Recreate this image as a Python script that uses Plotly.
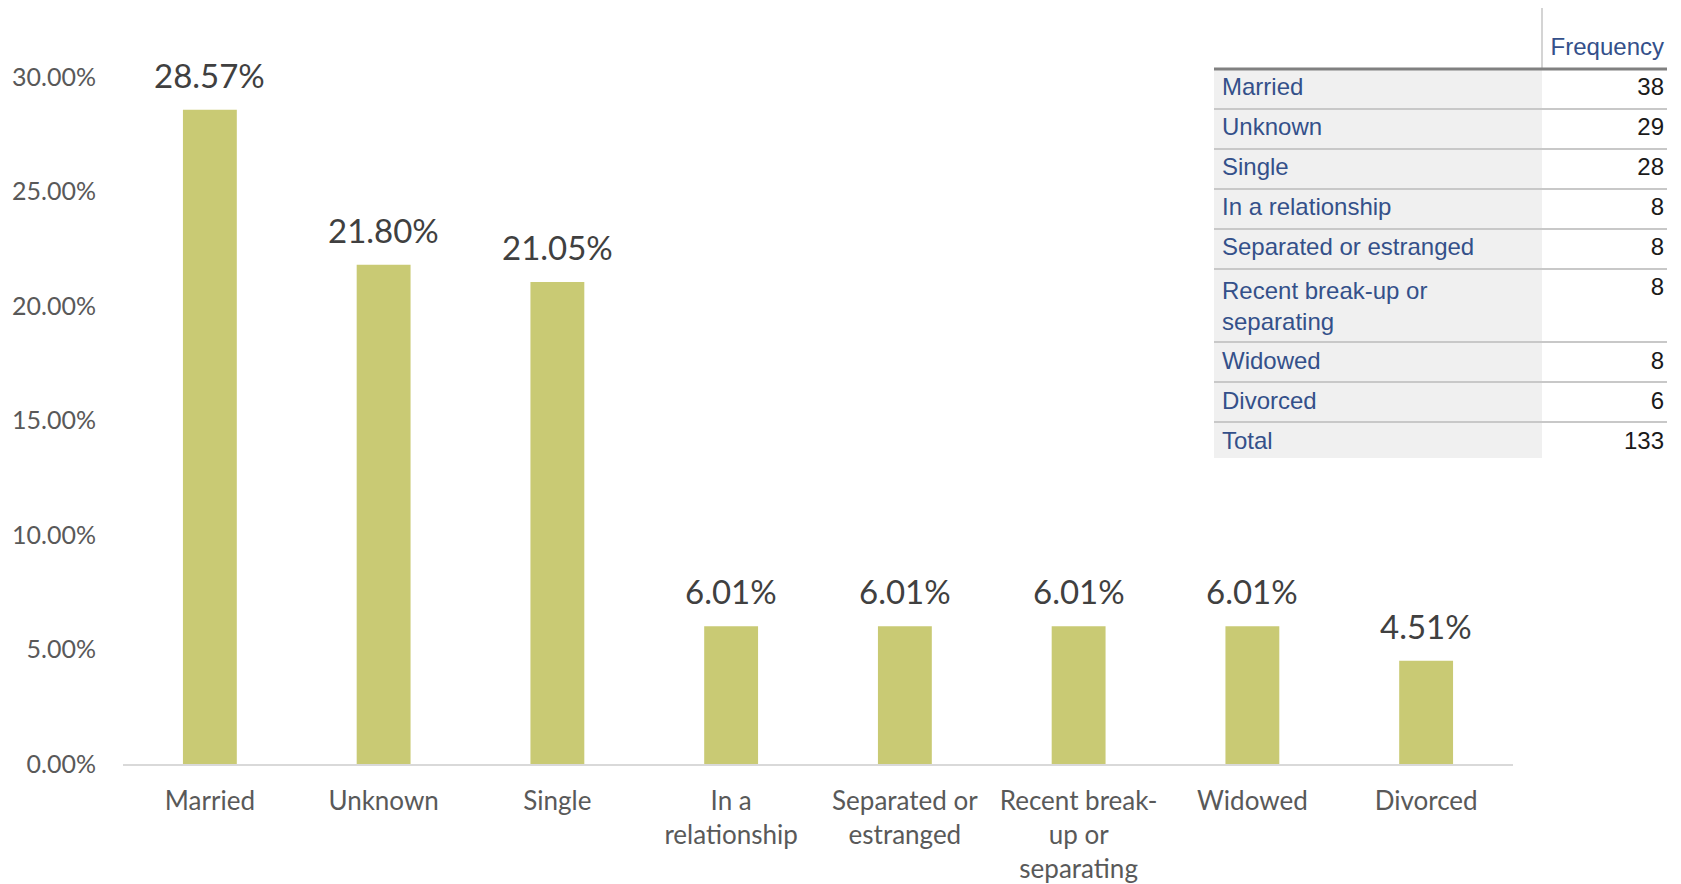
import plotly.graph_objects as go

categories = ["Married", "Unknown", "Single", "In a relationship", "Separated or estranged",
              "Recent break-up or separating", "Widowed", "Divorced"]
axis_labels = ["Married", "Unknown", "Single", "In a<br>relationship", "Separated or<br>estranged",
               "Recent break-<br>up or<br>separating", "Widowed", "Divorced"]
shares = [0.2857, 0.2180, 0.2105, 0.0601, 0.0601, 0.0601, 0.0601, 0.0451]
table_labels = ["Married", "Unknown", "Single", "In a relationship", "Separated or estranged",
                "Recent break-up or<br>separating", "Widowed", "Divorced", "Total"]
frequencies = [38, 29, 28, 8, 8, 8, 8, 6, 133]
y_ticks = [0, 0.05, 0.10, 0.15, 0.20, 0.25, 0.30]

OFF = 8  # page body margin
W, H = 1681 - OFF, 884 - OFF
BAR = "#C9CA74"
GREY_TXT = "#595959"


def px(v):
    return (v - OFF) / W


def py(v):
    return 1 - (v - OFF) / H


# plot area in screen pixels
PX0, PX1, PY0, PY1 = 123, 1513, 77, 764
# table geometry in screen pixels
TX0, TX1, TXM = 1214, 1667, 1542
PAD_R = 5
T_TOP, HDR_LINE, HDR_H = 5, 69, 40
ROW_H = [40, 40, 40, 40, 40, 73, 40, 40, 36]

fig = go.Figure()
fig.add_trace(go.Bar(
    x=categories, y=shares, marker=dict(color=BAR, line=dict(width=0)),
    hoverinfo="skip", showlegend=False,
))

for c, v in zip(categories, shares):
    fig.add_annotation(x=c, y=v, xref="x", yref="y", text=f"{v*100:.2f}%",
                       showarrow=False, yanchor="bottom", yshift=13,
                       font=dict(family="Lato", size=33, color="#404040"))

t_top = HDR_LINE - HDR_H
t_bot = HDR_LINE + sum(ROW_H)
fig.add_trace(go.Table(
    domain=dict(x=[px(TX0), px(TX1 + PAD_R)], y=[py(t_bot), py(t_top)]),
    columnwidth=[TXM - TX0, TX1 + PAD_R - TXM],
    header=dict(values=["", "Frequency"], height=HDR_H,
                fill=dict(color="white"), line=dict(width=0, color="white"),
                align=["left", "right"],
                font=dict(family="Liberation Sans", size=24, color="#34508A")),
    cells=dict(values=[table_labels, [str(f) for f in frequencies]], height=40,
               fill=dict(color=["#F0F0F0", "white"]),
               line=dict(width=0, color="white"),
               align=["left", "right"],
               font=dict(family="Liberation Sans", size=24, color=["#34508A", "#1A1A1A"])),
))

shapes = []
y = HDR_LINE
shapes.append(dict(type="line", xref="paper", yref="paper", x0=px(TXM), x1=px(TXM),
                   y0=py(T_TOP), y1=py(y), line=dict(color="#D4D4D4", width=2)))
shapes.append(dict(type="line", xref="paper", yref="paper", x0=px(TX0), x1=px(TX1),
                   y0=py(y), y1=py(y), line=dict(color="#808080", width=3)))
for h in ROW_H[:-1]:
    y += h
    shapes.append(dict(type="line", xref="paper", yref="paper", x0=px(TX0), x1=px(TX1),
                       y0=py(y), y1=py(y), line=dict(color="#C8C8C8", width=2)))

fig.update_layout(
    width=W, height=H,
    margin=dict(l=0, r=0, t=0, b=0, autoexpand=False),
    paper_bgcolor="white", plot_bgcolor="white",
    bargap=0.69,
    shapes=shapes,
    xaxis=dict(domain=[px(PX0), px(PX1)], tickmode="array", tickvals=categories, ticktext=axis_labels,
               showline=True, linecolor="#D9D9D9", linewidth=2, automargin=False,
               showgrid=False, zeroline=False, ticks="", ticklabelstandoff=13,
               tickfont=dict(family="Lato", size=26, color=GREY_TXT)),
    yaxis=dict(domain=[py(PY1), py(PY0)], range=[0, 0.30], tickvals=y_ticks, tickformat=".2%",
               showgrid=False, zeroline=False, showline=False, ticks="", automargin=False,
               ticklabelstandoff=26,
               tickfont=dict(family="Lato", size=25, color=GREY_TXT)),
)

fig.write_html("out.html")
